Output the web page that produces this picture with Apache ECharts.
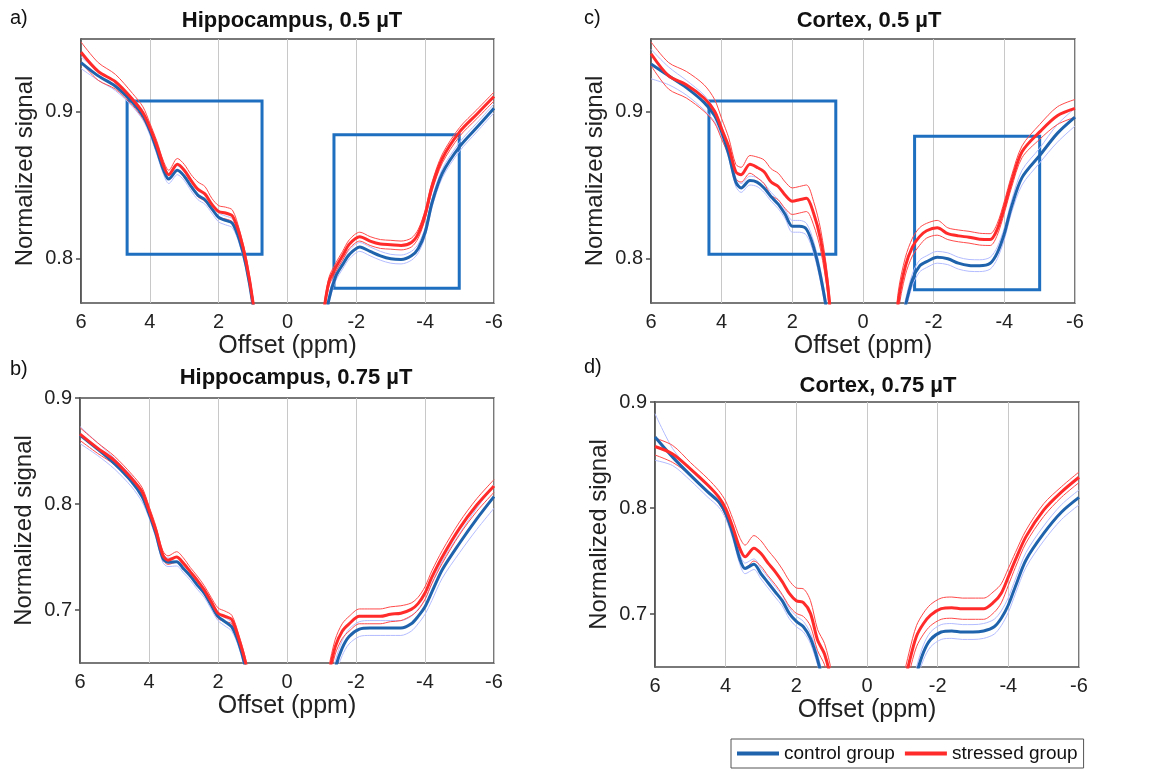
<!DOCTYPE html>
<html>
<head>
<meta charset="utf-8">
<title>Normalized signal vs offset</title>
<script src="https://cdn.jsdelivr.net/npm/echarts@6/dist/echarts.min.js"></script>
<style>
  html, body { margin: 0; padding: 0; background: #fff; }
  #main { width: 1154px; height: 771px; }
</style>
</head>
<body>
<div id="main"></div>
<script>
// offsets in ppm, the 0 entry is the gap in the middle
var OFFSET = [6, 5.5, 5, 4.5, 4.2, 4, 3.8, 3.6, 3.45, 3.2, 3.0, 2.8, 2.6, 2.4, 2.2, 2.0, 1.8, 1.6, 1.4, 1.2, 1.0, 0.8,
  0,
  -0.8, -1.0, -1.2, -1.4, -1.6, -1.8, -2.1, -2.4, -2.7, -3.0, -3.3, -3.6, -3.8, -4.0, -4.2, -4.5, -5.0, -5.5, -6];

// a) Hippocampus 0.5 uT
var hipp05Control = [0.933, 0.924, 0.917, 0.906, 0.897, 0.887, 0.874, 0.860, 0.854, 0.860, 0.856, 0.849, 0.843, 0.840, 0.834, 0.828, 0.826, 0.824, 0.813, 0.795, 0.768, 0.73,
  null,
  0.70, 0.74, 0.772, 0.788, 0.796, 0.803, 0.808, 0.805, 0.802, 0.800, 0.7995, 0.802, 0.807, 0.818, 0.838, 0.858, 0.876, 0.889, 0.902];
var hipp05ControlSd = [0.004, 0.003, 0.003, 0.003, 0.003, 0.003, 0.003, 0.003, 0.003, 0.003, 0.003, 0.003, 0.003, 0.003, 0.003, 0.003, 0.003, 0.003, 0.003, 0.003, 0.003, 0.003,
  null,
  0.003, 0.003, 0.003, 0.003, 0.003, 0.003, 0.003, 0.003, 0.003, 0.003, 0.003, 0.003, 0.003, 0.003, 0.003, 0.003, 0.003, 0.003, 0.003];
var hipp05Stressed = [0.940, 0.927, 0.920, 0.908, 0.899, 0.889, 0.877, 0.863, 0.857, 0.864, 0.860, 0.853, 0.847, 0.844, 0.837, 0.832, 0.831, 0.829, 0.817, 0.798, 0.770, 0.73,
  null,
  0.71, 0.755, 0.784, 0.794, 0.802, 0.810, 0.815, 0.812, 0.810, 0.8095, 0.809, 0.811, 0.817, 0.830, 0.849, 0.868, 0.886, 0.898, 0.910];
var hipp05StressedSd = [0.007, 0.006, 0.005, 0.004, 0.004, 0.003, 0.003, 0.003, 0.003, 0.004, 0.004, 0.004, 0.005, 0.005, 0.004, 0.004, 0.004, 0.004, 0.003, 0.003, 0.003, 0.003,
  null,
  0.003, 0.003, 0.003, 0.003, 0.003, 0.003, 0.003, 0.003, 0.003, 0.003, 0.003, 0.003, 0.003, 0.003, 0.003, 0.003, 0.003, 0.003, 0.003];

// c) Cortex 0.5 uT
var cort05Control = [0.932, 0.924, 0.916, 0.906, 0.897, 0.886, 0.871, 0.852, 0.848, 0.853, 0.852, 0.848, 0.842, 0.837, 0.830, 0.822, 0.822, 0.820, 0.808, 0.788, 0.76, 0.71,
  null,
  0.70, 0.745, 0.768, 0.786, 0.795, 0.798, 0.801, 0.800, 0.797, 0.7955, 0.7953, 0.797, 0.804, 0.817, 0.835, 0.855, 0.870, 0.885, 0.896];
var cort05ControlSd = [0.010, 0.006, 0.005, 0.005, 0.004, 0.004, 0.003, 0.003, 0.003, 0.003, 0.003, 0.003, 0.003, 0.003, 0.003, 0.004, 0.004, 0.004, 0.004, 0.004, 0.004, 0.004,
  null,
  0.004, 0.004, 0.004, 0.004, 0.004, 0.004, 0.004, 0.004, 0.004, 0.004, 0.004, 0.004, 0.004, 0.004, 0.004, 0.005, 0.005, 0.006, 0.006];
var cort05Stressed = [0.939, 0.924, 0.918, 0.909, 0.900, 0.888, 0.876, 0.859, 0.857, 0.864, 0.862, 0.859, 0.852, 0.849, 0.843, 0.839, 0.840, 0.841, 0.831, 0.813, 0.782, 0.73,
  null,
  0.72, 0.771, 0.795, 0.808, 0.815, 0.819, 0.821, 0.817, 0.8155, 0.8146, 0.8133, 0.813, 0.820, 0.835, 0.852, 0.8725, 0.886, 0.897, 0.902];
var cort05StressedSd = [0.008, 0.009, 0.009, 0.009, 0.008, 0.007, 0.006, 0.005, 0.005, 0.006, 0.007, 0.008, 0.009, 0.009, 0.009, 0.009, 0.009, 0.009, 0.008, 0.007, 0.006, 0.006,
  null,
  0.008, 0.007, 0.006, 0.006, 0.006, 0.005, 0.005, 0.004, 0.004, 0.004, 0.004, 0.004, 0.004, 0.004, 0.004, 0.004, 0.005, 0.006, 0.006];

// b) Hippocampus 0.75 uT
var hipp075Control = [0.865, 0.852, 0.838, 0.821, 0.807, 0.791, 0.772, 0.749, 0.745, 0.7455, 0.739, 0.732, 0.7235, 0.716, 0.705, 0.694, 0.689, 0.684, 0.669, 0.645, 0.61, 0.56,
  null,
  0.55, 0.58, 0.615, 0.645, 0.664, 0.675, 0.682, 0.683, 0.683, 0.683, 0.683, 0.687, 0.694, 0.703, 0.717, 0.738, 0.763, 0.786, 0.807];
var hipp075ControlSd = [0.008, 0.006, 0.005, 0.005, 0.005, 0.004, 0.004, 0.004, 0.004, 0.004, 0.004, 0.004, 0.004, 0.004, 0.004, 0.004, 0.004, 0.004, 0.004, 0.004, 0.004, 0.004,
  null,
  0.007, 0.007, 0.007, 0.007, 0.007, 0.007, 0.007, 0.007, 0.007, 0.007, 0.007, 0.007, 0.007, 0.007, 0.008, 0.008, 0.009, 0.010, 0.011];
var hipp075Stressed = [0.866, 0.853, 0.841, 0.824, 0.8115, 0.794, 0.775, 0.752, 0.747, 0.750, 0.744, 0.736, 0.728, 0.719, 0.708, 0.697, 0.694, 0.691, 0.673, 0.650, 0.615, 0.57,
  null,
  0.56, 0.61, 0.638, 0.6655, 0.680, 0.687, 0.694, 0.694, 0.694, 0.696, 0.697, 0.7006, 0.706, 0.716, 0.731, 0.750, 0.777, 0.799, 0.817];
var hipp075StressedSd = [0.006, 0.005, 0.004, 0.004, 0.004, 0.004, 0.004, 0.004, 0.004, 0.005, 0.005, 0.004, 0.004, 0.004, 0.004, 0.005, 0.005, 0.004, 0.004, 0.004, 0.004, 0.004,
  null,
  0.007, 0.007, 0.007, 0.007, 0.007, 0.007, 0.007, 0.007, 0.007, 0.007, 0.007, 0.006, 0.006, 0.006, 0.006, 0.006, 0.006, 0.006, 0.006];

// d) Cortex 0.75 uT
var cort075Control = [0.867, 0.848, 0.831, 0.815, 0.806, 0.795, 0.776, 0.752, 0.743, 0.747, 0.738, 0.7295, 0.721, 0.7126, 0.7006, 0.693, 0.688, 0.677, 0.657, 0.630, 0.60, 0.56,
  null,
  0.55, 0.59, 0.615, 0.643, 0.664, 0.676, 0.683, 0.684, 0.683, 0.683, 0.684, 0.688, 0.696, 0.7085, 0.726, 0.751, 0.776, 0.796, 0.810];
var cort075ControlSd = [0.022, 0.008, 0.005, 0.005, 0.005, 0.005, 0.005, 0.005, 0.005, 0.005, 0.005, 0.005, 0.005, 0.005, 0.005, 0.005, 0.005, 0.005, 0.005, 0.005, 0.005, 0.005,
  null,
  0.007, 0.007, 0.007, 0.007, 0.007, 0.007, 0.007, 0.007, 0.007, 0.007, 0.007, 0.007, 0.007, 0.007, 0.007, 0.007, 0.007, 0.007, 0.007];
var cort075Stressed = [0.858, 0.851, 0.837, 0.8215, 0.8105, 0.7995, 0.782, 0.762, 0.754, 0.762, 0.757, 0.748, 0.740, 0.7305, 0.7195, 0.7126, 0.7107, 0.7006, 0.6755, 0.662, 0.635, 0.59,
  null,
  0.58, 0.625, 0.655, 0.679, 0.691, 0.699, 0.705, 0.706, 0.705, 0.705, 0.705, 0.7116, 0.7195, 0.735, 0.751, 0.773, 0.798, 0.815, 0.829];
var cort075StressedSd = [0.008, 0.008, 0.006, 0.006, 0.006, 0.007, 0.008, 0.010, 0.011, 0.012, 0.012, 0.012, 0.012, 0.012, 0.012, 0.012, 0.013, 0.012, 0.010, 0.010, 0.010, 0.010,
  null,
  0.010, 0.010, 0.010, 0.010, 0.010, 0.010, 0.010, 0.010, 0.010, 0.010, 0.010, 0.010, 0.009, 0.008, 0.007, 0.006, 0.006, 0.005, 0.005];

// blue boxes: [x1, y1, x2, y2] in data coords
var hipp05Boxes = [[4.66, 0.907, 0.74, 0.803], [-1.35, 0.884, -4.99, 0.780]];
var cort05Boxes = [[4.36, 0.907, 0.77, 0.803], [-1.46, 0.883, -5.0, 0.779]];

var Y_TICKS_05 = [0.8, 0.9];
var Y_TICKS_075 = [0.7, 0.8, 0.9];

var panels = [
  { label: 'a)', title: 'Hippocampus, 0.5 µT', grid: { left: 81, top: 39, width: 413, height: 264 },
    yMin: 0.770, yMax: 0.949, ticks: Y_TICKS_05, ctrl: hipp05Control, ctrlSd: hipp05ControlSd,
    str: hipp05Stressed, strSd: hipp05StressedSd, boxes: hipp05Boxes,
    labelPos: [10, 18], titlePos: [292, 21] },
  { label: 'c)', title: 'Cortex, 0.5 µT', grid: { left: 651, top: 39, width: 424, height: 264 },
    yMin: 0.770, yMax: 0.949, ticks: Y_TICKS_05, ctrl: cort05Control, ctrlSd: cort05ControlSd,
    str: cort05Stressed, strSd: cort05StressedSd, boxes: cort05Boxes,
    labelPos: [584, 18], titlePos: [869, 21] },
  { label: 'b)', title: 'Hippocampus, 0.75 µT', grid: { left: 80, top: 398, width: 414, height: 265 },
    yMin: 0.65, yMax: 0.9, ticks: Y_TICKS_075, ctrl: hipp075Control, ctrlSd: hipp075ControlSd,
    str: hipp075Stressed, strSd: hipp075StressedSd, boxes: [],
    labelPos: [10, 369], titlePos: [296, 378] },
  { label: 'd)', title: 'Cortex, 0.75 µT', grid: { left: 655, top: 402, width: 424, height: 265 },
    yMin: 0.65, yMax: 0.9, ticks: Y_TICKS_075, ctrl: cort075Control, ctrlSd: cort075ControlSd,
    str: cort075Stressed, strSd: cort075StressedSd, boxes: [],
    labelPos: [584, 367], titlePos: [878, 386] }
];

var BLUE = '#1f63ad', RED = '#ff2b2b', BLUE_SD = '#b3bcff', RED_SD = '#ff4a4a', BOX = '#1e6fbf';
var FONT = '"Liberation Sans", Arial, sans-serif';

function pairs(ys, sd, sign) {
  return OFFSET.map(function (x, k) {
    var v = ys[k];
    if (v == null) return [x, '-'];
    if (sd) v = v + sign * sd[k];
    return [x, v];
  });
}

function line(i, name, data, color, width, z) {
  return {
    type: 'line', name: name, xAxisIndex: i, yAxisIndex: i, data: data,
    showSymbol: false, smooth: 0.3, connectNulls: false, z: z,
    lineStyle: { color: color, width: width }, itemStyle: { color: color },
    emphasis: { disabled: true }, silent: true
  };
}

var grids = [], xAxes = [], yAxes = [], series = [], graphics = [];
panels.forEach(function (p, i) {
  grids.push(Object.assign({ show: true, borderColor: '#4d4d4d', borderWidth: 1.5, backgroundColor: 'transparent' }, p.grid));
  xAxes.push({
    gridIndex: i, type: 'value', min: -6, max: 6, interval: 2, inverse: true,
    axisLine: { show: false, onZero: false }, axisTick: { show: false },
    splitLine: { show: true, lineStyle: { color: '#c8c8c8', width: 1 } },
    axisLabel: { fontSize: 20, color: '#222', margin: 9, fontFamily: FONT },
    name: 'Offset (ppm)', nameLocation: 'middle', nameGap: 31,
    nameTextStyle: { fontSize: 25, color: '#222', fontFamily: FONT }
  });
  yAxes.push({
    gridIndex: i, type: 'value', min: p.yMin, max: p.yMax, position: 'left',
    splitLine: { show: false },
    axisLine: { show: true, onZero: false, lineStyle: { color: '#4d4d4d', width: 1.5 } },
    axisTick: { show: true, length: 5, customValues: p.ticks, lineStyle: { color: '#4d4d4d', width: 1.5 } },
    axisLabel: { customValues: p.ticks, fontSize: 20, color: '#222', margin: 8, fontFamily: FONT,
      formatter: function (v) { return v.toFixed(1); } },
    name: 'Normalized signal', nameLocation: 'middle', nameGap: 44, nameRotate: 90,
    nameTextStyle: { fontSize: 24, color: '#222', fontFamily: FONT }
  });
  series.push(line(i, 'control sd+', pairs(p.ctrl, p.ctrlSd, 1), BLUE_SD, 1, 2));
  series.push(line(i, 'control sd-', pairs(p.ctrl, p.ctrlSd, -1), BLUE_SD, 1, 2));
  series.push(line(i, 'stressed sd+', pairs(p.str, p.strSd, 1), RED_SD, 1, 3));
  series.push(line(i, 'stressed sd-', pairs(p.str, p.strSd, -1), RED_SD, 1, 3));
  series.push(line(i, 'control group', pairs(p.ctrl), BLUE, 3, 4));
  var s = line(i, 'stressed group', pairs(p.str), RED, 3, 5);
  if (p.boxes.length) {
    s.markArea = {
      silent: true,
      itemStyle: { color: 'rgba(0,0,0,0)', borderColor: BOX, borderWidth: 3 },
      data: p.boxes.map(function (b) { return [{ coord: [b[0], b[1]] }, { coord: [b[2], b[3]] }]; })
    };
  }
  series.push(s);
  graphics.push({ type: 'text', x: p.labelPos[0], y: p.labelPos[1],
    style: { text: p.label, fontSize: 20, fontFamily: FONT, fill: '#111', textVerticalAlign: 'middle' } });
  graphics.push({ type: 'text', x: p.titlePos[0], y: p.titlePos[1],
    style: { text: p.title, fontSize: 22, fontWeight: 'bold', fontFamily: FONT, fill: '#111',
      textAlign: 'center', textVerticalAlign: 'middle' } });
});

var chart = echarts.init(document.getElementById('main'));
chart.setOption({
  animation: false,
  textStyle: { fontFamily: FONT },
  grid: grids,
  xAxis: xAxes,
  yAxis: yAxes,
  series: series,
  graphic: graphics,
  legend: {
    data: ['control group', 'stressed group'],
    left: 731, top: 739, orient: 'horizontal',
    borderColor: '#555', borderWidth: 1, borderRadius: 0,
    padding: [5, 6], itemGap: 10, itemWidth: 42, itemHeight: 4, icon: 'rect',
    selectedMode: false,
    textStyle: { fontSize: 19, color: '#111', fontFamily: FONT }
  }
});
</script>
</body>
</html>
